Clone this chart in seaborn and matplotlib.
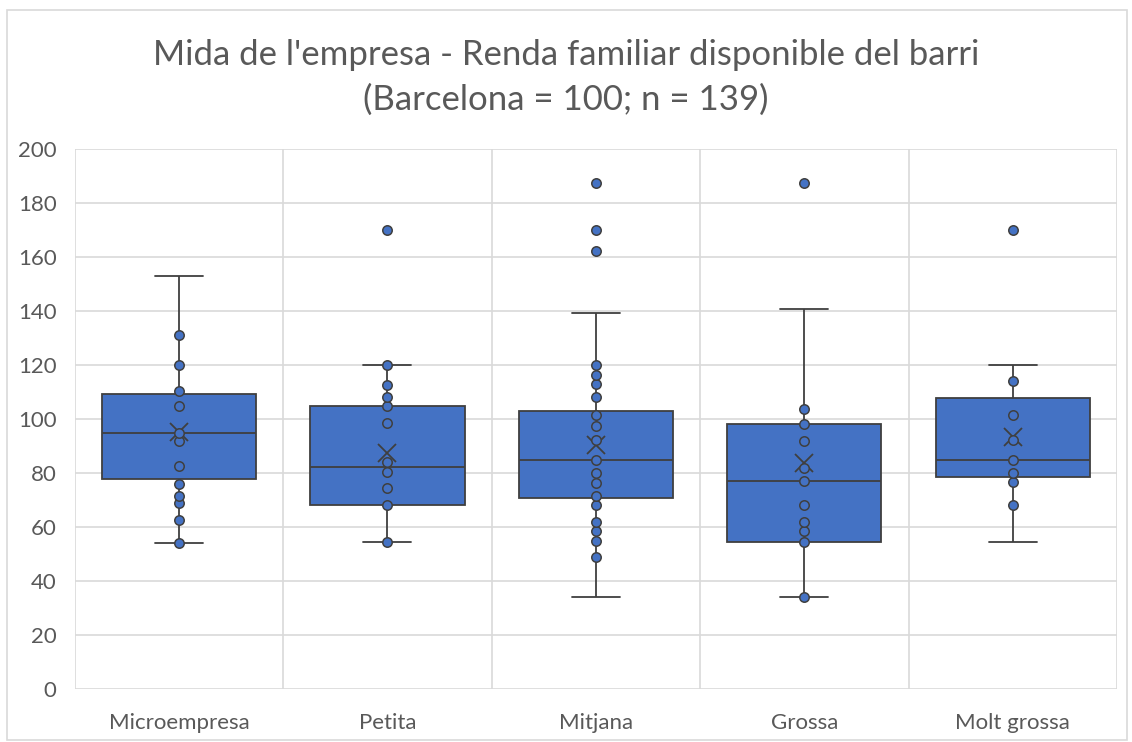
import pandas as pd
import numpy as np
import matplotlib
matplotlib.use("Agg")
import matplotlib.pyplot as plt
import seaborn as sns
from matplotlib.patches import Rectangle

categories = ["Microempresa", "Petita", "Mitjana", "Grossa", "Molt grossa"]

microempresa = [54, 54, 62.5, 69, 71.5, 71.5, 76, 76, 82.5, 82.5, 92, 92, 92, 95, 95, 95, 95,
                105, 105, 105, 105, 105, 110.5, 110.5, 110.5, 120, 120, 120, 131, 153]
petita = [54.3, 54.3, 54.3, 54.3, 68.1, 68.1, 74.3, 80.5, 80.5, 84.2, 84.2, 98.4,
          105, 105, 108, 112.6, 120, 170]
mitjana = [34, 48.8, 48.8, 54.9, 54.9, 58.6, 61.7, 61.7, 68.1, 68.1,
           71.5, 71.5, 71.5, 76.2, 76.2, 76.2, 80.1, 80.1, 84.8, 84.8, 84.8,
           92.2, 92.2, 92.2, 92.2, 97.5, 97.5, 101.3, 101.3, 101.3,
           108, 108, 108, 112.8, 116.3, 119.9, 139.4, 162.2, 170, 187.3]
grossa = [34, 54.5, 54.5, 54.5, 54.5, 58.6, 61.7, 68.1, 77, 81.7, 92, 98, 98,
          103.8, 103.8, 140.7, 187.3]
molt_grossa = [54.3, 68.1, 68.1, 76.8, 80.1, 80.1, 84.8, 84.8, 92.2, 92.2,
               101.3, 114.2, 114.2, 120, 170]

# whisker ends that the original chart draws without an inner point
no_marker_cat = ["Microempresa", "Mitjana", "Mitjana", "Grossa", "Molt grossa", "Molt grossa"]
no_marker_val = [153, 34, 139.4, 140.7, 54.3, 120]

y_ticks = list(range(0, 201, 20))

rows = []
for cat, vals in zip(categories, [microempresa, petita, mitjana, grossa, molt_grossa]):
    for v in vals:
        rows.append({"mida": cat, "renda": v})
df = pd.DataFrame(rows)

pts = df.drop_duplicates()
skip = pd.DataFrame({"mida": no_marker_cat, "renda": no_marker_val})
pts = pts.merge(skip, how="left", indicator=True)
pts = pts[pts["_merge"] == "left_only"].drop(columns="_merge")

blue = "#4472C4"
edge = "#3F3F3F"
grid_c = "#D9D9D9"
text_c = "#595959"

sns.set_style("white")
plt.rcParams["font.family"] = ["Lato", "DejaVu Sans"]

fig = plt.figure(figsize=(11.32, 7.42), dpi=100)
ax = fig.add_axes([0.066, 0.0714, 0.9208, 0.7278])

sns.boxplot(data=df, x="mida", y="renda", order=categories, ax=ax,
            width=0.74, color=blue, saturation=1, linecolor=edge, linewidth=1.3,
            showfliers=False, whis=1.5, showmeans=True,
            meanprops=dict(marker="x", markeredgecolor=edge, markersize=13,
                           markeredgewidth=1.3),
            capwidths=0.23)
sns.stripplot(data=pts, x="mida", y="renda", order=categories, ax=ax,
              jitter=False, color=blue, edgecolor=edge, linewidth=1.1, size=6.8,
              zorder=4)

ax.set_xlim(-0.5, len(categories) - 0.5)
ax.set_ylim(0, 200)
ax.set_yticks(y_ticks)
ax.set_xticks(np.arange(-0.5, len(categories), 1.0), minor=True)
ax.grid(True, axis="y", color=grid_c, linewidth=1.2, zorder=0)
ax.grid(True, axis="x", which="minor", color=grid_c, linewidth=1.2, zorder=0)
ax.grid(False, axis="x", which="major")
ax.set_axisbelow(True)
for s in ax.spines.values():
    s.set_visible(False)
ax.set_xlabel("")
ax.set_ylabel("")
ax.tick_params(axis="both", which="both", length=0, colors=text_c, labelsize=16)
ax.tick_params(axis="y", pad=13)
ax.tick_params(axis="x", pad=17)

fig.text(0.5, 0.926, "Mida de l'empresa - Renda familiar disponible del barri",
         ha="center", va="center", fontsize=25, color=text_c)
fig.text(0.5, 0.865, "(Barcelona = 100; n = 139)",
         ha="center", va="center", fontsize=25, color=text_c)

fig.patches.append(Rectangle((0.006, 0.003), 0.99, 0.984, transform=fig.transFigure,
                             fill=False, edgecolor=grid_c, linewidth=1.2))

fig.savefig("out.png", dpi=100)
